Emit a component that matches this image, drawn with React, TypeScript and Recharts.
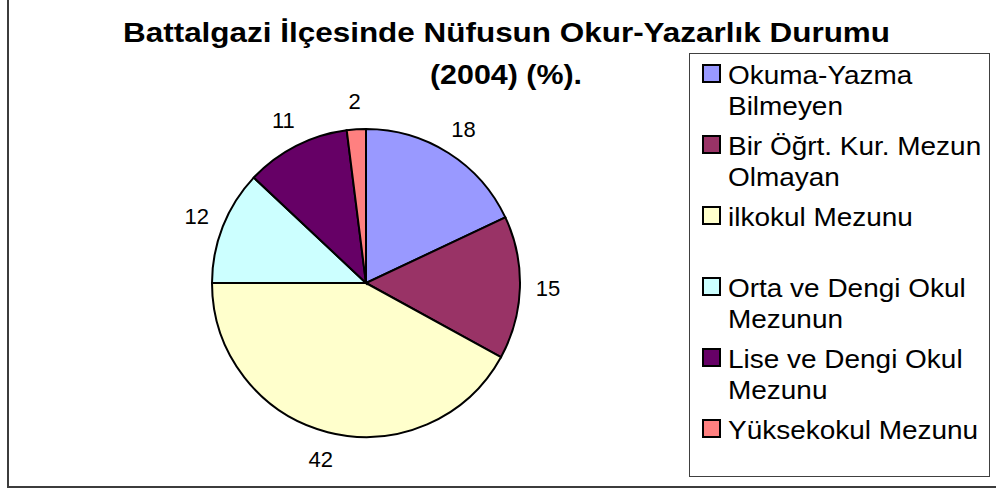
import { Legend, Pie, PieChart, Cell } from "recharts";

const CATEGORIES = [
  "Okuma-Yazma Bilmeyen",
  "Bir Öğrt. Kur. Mezun Olmayan",
  "ilkokul Mezunu",
  "Orta ve Dengi Okul Mezunun",
  "Lise ve Dengi Okul Mezunu",
  "Yüksekokul Mezunu",
];
const VALUES = [18, 15, 42, 12, 11, 2];
const COLORS = ["#9999FF", "#993366", "#FFFFCC", "#CCFFFF", "#660066", "#FF8080"];
const TITLE_LINES = ["Battalgazi İlçesinde Nüfusun Okur-Yazarlık Durumu", "(2004) (%)."];

const FONT = '"Liberation Sans", Arial, sans-serif';
const RAD = Math.PI / 180;

const data = CATEGORIES.map((name, i) => ({ name, value: VALUES[i] }));

function renderLabel({ cx, cy, midAngle, outerRadius, value }: any) {
  const r = outerRadius + 28;
  const x = cx + r * Math.cos(-midAngle * RAD);
  const y = cy + r * Math.sin(-midAngle * RAD);
  return (
    <text x={x} y={y} textAnchor="middle" dominantBaseline="central" fontSize={22} fontFamily={FONT} fill="#000">
      {value}
    </text>
  );
}

// legend kept in data order (Recharts would sort the payload by name)
function LegendBox() {
  return (
    <div
      style={{
        position: "relative",
        width: 301,
        height: 424,
        border: "1px solid #404040",
        boxSizing: "border-box",
        background: "#fff",
        fontFamily: FONT,
      }}
    >
      {CATEGORIES.map((name, i) => (
        <div key={name} style={{ position: "absolute", left: 12, top: 6 + i * 71 }}>
          <div
            style={{
              position: "absolute",
              left: 0,
              top: 4,
              width: 15,
              height: 15,
              border: "2px solid #000",
              background: COLORS[i],
            }}
          />
          <div
            style={{
              position: "absolute",
              left: 26,
              top: 0,
              width: 250,
              fontSize: 26,
              lineHeight: "31px",
              color: "#000",
              transform: "scaleX(1.075)",
              transformOrigin: "left top",
            }}
          >
            {name}
          </div>
        </div>
      ))}
    </div>
  );
}

export default function App() {
  return (
    <div style={{ position: "absolute", left: 0, top: 0, width: 996, height: 495, overflow: "hidden", background: "#fff" }}>
      <div
        style={{
          position: "absolute",
          left: 7,
          top: -2,
          width: 1000,
          height: 490,
          border: "2px solid #3c3c3c",
          boxSizing: "border-box",
        }}
      />
      <svg width={996} height={100} style={{ position: "absolute", left: 0, top: 0 }}>
        <text x={123} y={42} fontSize={27} fontWeight="bold" fontFamily={FONT} textLength={767} lengthAdjust="spacingAndGlyphs">
          {TITLE_LINES[0]}
        </text>
        <text x={430} y={84} fontSize={27} fontWeight="bold" fontFamily={FONT} textLength={152} lengthAdjust="spacingAndGlyphs">
          {TITLE_LINES[1]}
        </text>
      </svg>
      <div style={{ position: "absolute", left: 0, top: 0 }}>
        <PieChart width={996} height={495} margin={{ top: 0, right: 0, bottom: 0, left: 0 }}>
          <Pie
            data={data}
            dataKey="value"
            nameKey="name"
            cx={366}
            cy={283}
            outerRadius={154}
            startAngle={90}
            endAngle={-270}
            stroke="#000"
            strokeWidth={2}
            label={renderLabel}
            labelLine={false}
            isAnimationActive={false}
          >
            {data.map((d, i) => (
              <Cell key={d.name} fill={COLORS[i]} />
            ))}
          </Pie>
          <Legend
            layout="vertical"
            align="right"
            verticalAlign="top"
            content={<LegendBox />}
            wrapperStyle={{ left: 689, top: 53, width: 301, height: 424 }}
          />
        </PieChart>
      </div>
    </div>
  );
}
